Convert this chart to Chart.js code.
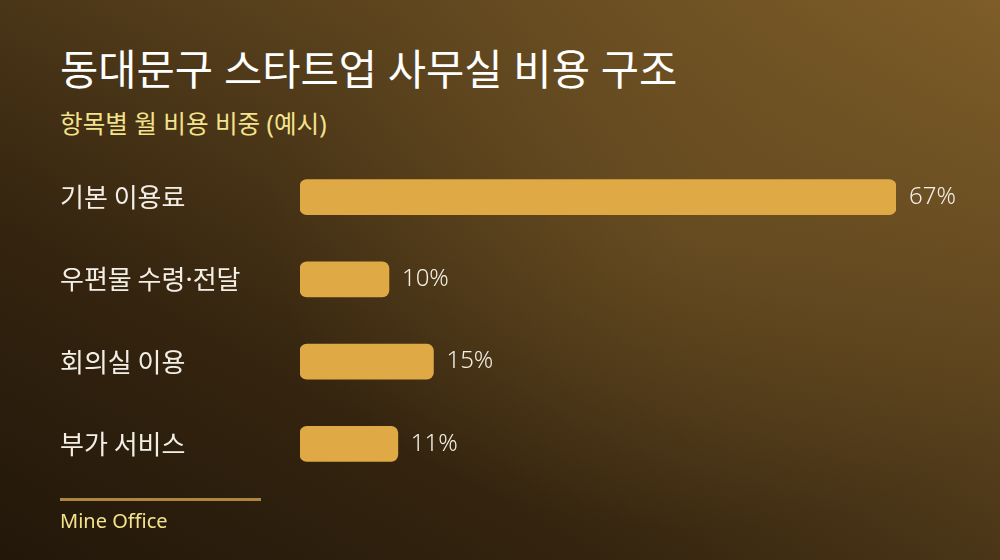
<!DOCTYPE html>
<html lang="ko">
<head>
<meta charset="utf-8">
<script src="https://cdn.jsdelivr.net/npm/chart.js@4"></script>
<style>
  html, body { margin: 0; padding: 0; }
  body {
    width: 1000px; height: 560px; overflow: hidden; position: relative;
    font-family: "Noto Sans", "Noto Sans CJK KR", sans-serif;
    background:
      radial-gradient(ellipse 420px 300px at 690px 230px, rgba(140,105,45,0.28), rgba(140,105,45,0) 100%),
      linear-gradient(to bottom left, #7e5d28 0%, #5a421d 35%, #34240f 70%, #22170a 100%);
  }
  #title { position: absolute; left: 60px; top: 45px; font-size: 41.6px; font-weight: 400; color: #ffffff; line-height: 1.2; white-space: nowrap; }
  #subtitle { position: absolute; left: 60px; top: 108px; font-size: 24.6px; font-weight: 400; color: #f4e38c; line-height: 1.3; white-space: nowrap; }
  #rule { position: absolute; left: 60px; top: 498px; width: 201px; height: 3px; background: #ad8740; }
  #footer { position: absolute; left: 60px; top: 508px; font-size: 20px; color: #f4e38c; line-height: 1.3; }
  #wrap { position: absolute; left: 0; top: 0; width: 1000px; height: 560px; }
</style>
</head>
<body>
<div id="title">동대문구 스타트업 사무실 비용 구조</div>
<div id="subtitle">항목별 월 비용 비중 (예시)</div>
<div id="wrap"><canvas id="c" width="1000" height="560"></canvas></div>
<div id="rule"></div>
<div id="footer">Mine Office</div>
<script>
const categories = ["기본 이용료", "우편물 수령·전달", "회의실 이용", "부가 서비스"];
const shareValues = [67, 10, 15, 11];
const valueSuffix = "%";

const valueLabels = {
  id: "valueLabels",
  afterDatasetsDraw(chart) {
    const ctx = chart.ctx;
    const meta = chart.getDatasetMeta(0);
    ctx.save();
    ctx.font = '300 24px "Noto Sans", "Noto Sans CJK KR", sans-serif';
    ctx.fillStyle = "#f3efe6";
    ctx.textAlign = "left";
    ctx.textBaseline = "middle";
    meta.data.forEach((bar, i) => {
      ctx.fillText(shareValues[i] + valueSuffix, bar.x + 13, bar.y);
    });
    ctx.restore();
  }
};

new Chart(document.getElementById("c"), {
  type: "bar",
  data: {
    labels: categories,
    datasets: [{
      data: shareValues,
      backgroundColor: "#dfa946",
      borderRadius: 7,
      borderSkipped: false,
      barThickness: 35
    }]
  },
  options: {
    indexAxis: "y",
    responsive: false,
    animation: false,
    devicePixelRatio: 1,
    layout: { padding: { left: 60, right: 104, top: 156, bottom: 75 } },
    plugins: { legend: { display: false }, tooltip: { enabled: false }, title: { display: false } },
    scales: {
      x: { display: false, min: 0, max: Math.max(...shareValues) },
      y: {
        afterFit(scale) { scale.width = 240; },
        grid: { display: false },
        border: { display: false },
        ticks: {
          crossAlign: "far",
          color: "#f3efe6",
          font: { size: 26, weight: "400", family: '"Noto Sans CJK KR", "Noto Sans", sans-serif' },
          padding: 0
        }
      }
    }
  },
  plugins: [valueLabels]
});
</script>
</body>
</html>
